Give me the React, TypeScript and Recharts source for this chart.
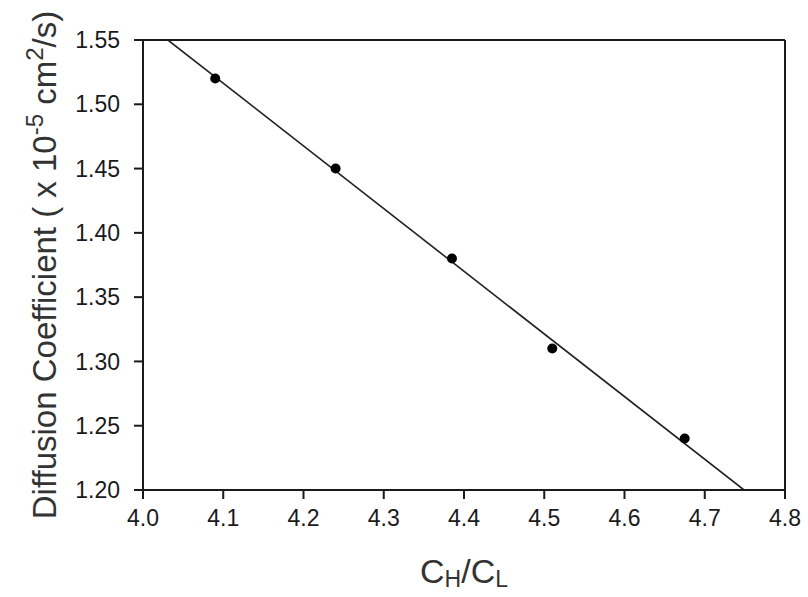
import {
  ScatterChart,
  Scatter,
  XAxis,
  YAxis,
  ReferenceLine,
} from 'recharts';

// measured points (C_H/C_L vs diffusion coefficient)
const ratioValues = [4.09, 4.24, 4.385, 4.51, 4.675];
const diffValues = [1.52, 1.45, 1.38, 1.31, 1.24];

// regression line end points
const fitX = [4.031, 4.749];
const fitY = [1.55, 1.2];

const xTicks = [4.0, 4.1, 4.2, 4.3, 4.4, 4.5, 4.6, 4.7, 4.8];
const yTicks = [1.2, 1.25, 1.3, 1.35, 1.4, 1.45, 1.5, 1.55];

const points = ratioValues.map((x, i) => ({ x, y: diffValues[i] }));
const fitLine = fitX.map((x, i) => ({ x, y: fitY[i] }));

const FONT = '"Liberation Sans", Arial, sans-serif';
const INK = '#1a1a1a';

const Dot = (props: any) => {
  const { cx, cy } = props;
  if (cx == null || cy == null) return <g />;
  return <circle cx={cx} cy={cy} r={5} fill="#000" />;
};

const YTitle = (props: any) => {
  const vb = props.viewBox || {};
  const cx = 56;
  const cy = (vb.y ?? 40) + (vb.height ?? 450) / 2;
  return (
    <text
      x={cx}
      y={cy}
      transform={`rotate(-90, ${cx}, ${cy})`}
      textAnchor="middle"
      fontFamily={FONT}
      fontSize={33}
      fill="#333"
    >
      Diffusion Coefficient ( x 10
      <tspan dy={-13} fontSize={24}>-5</tspan>
      <tspan dy={13}> cm</tspan>
      <tspan dy={-13} fontSize={24}>2</tspan>
      <tspan dy={13}>/s)</tspan>
    </text>
  );
};

const XTitle = (props: any) => {
  const vb = props.viewBox || {};
  const cx = (vb.x ?? 143) + (vb.width ?? 642) / 2;
  const cy = 583;
  return (
    <text
      x={cx}
      y={cy}
      textAnchor="middle"
      fontFamily={FONT}
      fontSize={34}
      fill="#333"
    >
      C
      <tspan dy={4} fontSize={23}>H</tspan>
      <tspan dy={-4}>/C</tspan>
      <tspan dy={4} fontSize={23}>L</tspan>
    </text>
  );
};

export default function App() {
  return (
    <div style={{ position: 'absolute', left: 0, top: 0, background: '#fff' }}>
      <ScatterChart
        width={808}
        height={597}
        margin={{ top: 40, right: 23, bottom: 37, left: 0 }}
      >
        <XAxis
          type="number"
          dataKey="x"
          domain={[4.0, 4.8]}
          ticks={xTicks}
          interval={0}
          tickFormatter={(v: number) => v.toFixed(1)}
          tickSize={9}
          tickMargin={11}
          height={70}
          axisLine={{ stroke: INK, strokeWidth: 2 }}
          tickLine={{ stroke: INK, strokeWidth: 2 }}
          tick={{ fontSize: 23, fill: INK, fontFamily: FONT }}
          allowDataOverflow
          label={<XTitle />}
        />
        <YAxis
          type="number"
          dataKey="y"
          domain={[1.2, 1.55]}
          ticks={yTicks}
          interval={0}
          tickFormatter={(v: number) => v.toFixed(2)}
          tickSize={9}
          tickMargin={14}
          width={143}
          axisLine={{ stroke: INK, strokeWidth: 2 }}
          tickLine={{ stroke: INK, strokeWidth: 2 }}
          tick={{ fontSize: 23, fill: INK, fontFamily: FONT }}
          allowDataOverflow
          label={<YTitle />}
        />
        <ReferenceLine y={1.55} stroke={INK} strokeWidth={2} />
        <ReferenceLine x={4.8} stroke={INK} strokeWidth={2} />
        <Scatter
          data={fitLine}
          line={{ stroke: '#222', strokeWidth: 1.6 }}
          shape={() => <g />}
          isAnimationActive={false}
        />
        <Scatter data={points} shape={<Dot />} isAnimationActive={false} />
      </ScatterChart>
    </div>
  );
}
